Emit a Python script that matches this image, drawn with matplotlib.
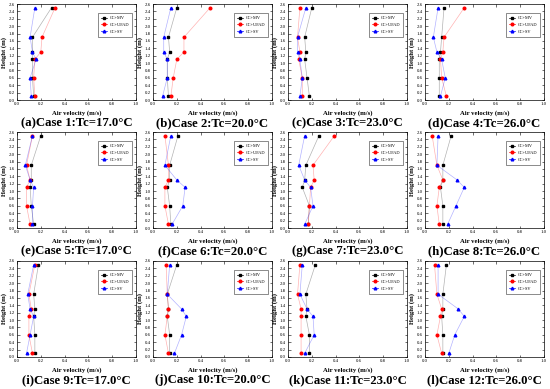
import matplotlib
matplotlib.use("Agg")
import matplotlib.pyplot as plt
from matplotlib.ticker import MultipleLocator
from matplotlib.lines import Line2D

plt.rcParams['font.family'] = ['Liberation Serif', 'DejaVu Serif']

heights = [0.1, 0.6, 1.1, 1.3, 1.7, 2.5]

titles = [
    "(a)Case 1:Tc=17.0°C", "(b)Case 2:Tc=20.0°C", "(c)Case 3:Tc=23.0°C", "(d)Case 4:Tc=26.0°C",
    "(e)Case 5:Tc=17.0°C", "(f)Case 6:Tc=20.0°C", "(g)Case 7:Tc=23.0°C", "(h)Case 8:Tc=26.0°C",
    "(i)Case 9:Tc=17.0°C", "(j)Case 10:Tc=20.0°C", "(k)Case 11:Tc=23.0°C", "(l)Case 12:Tc=26.0°C",
]

# air velocity at each height, one list per case
mv = [
    [0.14, 0.13, 0.13, 0.13, 0.13, 0.29],
    [0.13, 0.12, 0.12, 0.14, 0.13, 0.20],
    [0.18, 0.16, 0.14, 0.15, 0.14, 0.20],
    [0.12, 0.12, 0.12, 0.13, 0.14, 0.16],
    [0.14, 0.12, 0.11, 0.12, 0.12, 0.20],
    [0.15, 0.14, 0.12, 0.14, 0.14, 0.21],
    [0.17, 0.18, 0.12, 0.14, 0.15, 0.26],
    [0.15, 0.15, 0.13, 0.15, 0.15, 0.22],
    [0.15, 0.15, 0.14, 0.15, 0.14, 0.18],
    [0.14, 0.14, 0.12, 0.13, 0.12, 0.20],
    [0.18, 0.18, 0.15, 0.16, 0.15, 0.23],
    [0.15, 0.15, 0.14, 0.15, 0.15, 0.18],
]
ufad = [
    [0.15, 0.14, 0.15, 0.20, 0.21, 0.32],
    [0.15, 0.17, 0.20, 0.26, 0.26, 0.48],
    [0.12, 0.12, 0.09, 0.10, 0.08, 0.10],
    [0.18, 0.14, 0.13, 0.15, 0.16, 0.33],
    [0.11, 0.08, 0.08, 0.11, 0.08, 0.13],
    [0.13, 0.10, 0.10, 0.13, 0.13, 0.10],
    [0.17, 0.18, 0.19, 0.22, 0.21, 0.39],
    [0.12, 0.10, 0.12, 0.15, 0.10, 0.06],
    [0.13, 0.10, 0.10, 0.12, 0.10, 0.15],
    [0.13, 0.10, 0.12, 0.13, 0.12, 0.11],
    [0.11, 0.11, 0.11, 0.11, 0.08, 0.10],
    [0.14, 0.10, 0.13, 0.14, 0.10, 0.08],
]
sv = [
    [0.12, 0.11, 0.16, 0.13, 0.11, 0.15],
    [0.08, 0.12, 0.12, 0.09, 0.09, 0.15],
    [0.10, 0.12, 0.10, 0.08, 0.08, 0.15],
    [0.13, 0.17, 0.14, 0.10, 0.07, 0.11],
    [0.13, 0.13, 0.14, 0.11, 0.07, 0.13],
    [0.16, 0.25, 0.27, 0.20, 0.10, 0.15],
    [0.14, 0.21, 0.19, 0.14, 0.09, 0.14],
    [0.19, 0.26, 0.33, 0.27, 0.10, 0.11],
    [0.08, 0.11, 0.14, 0.11, 0.09, 0.14],
    [0.18, 0.24, 0.28, 0.24, 0.12, 0.14],
    [0.14, 0.22, 0.21, 0.16, 0.10, 0.12],
    [0.20, 0.25, 0.33, 0.28, 0.11, 0.11],
]

series = [('CC+MV', mv, 'black', 's'), ('CC+UFAD', ufad, 'red', 'o'), ('CC+SV', sv, 'blue', '^')]

W, H = 550, 389
fig = plt.figure(figsize=(5.5, 3.89), dpi=100)

col_left = [17, 153, 288, 425]
row_top = [4, 132, 261]
aw, ah = 119, 96

fmt = plt.FuncFormatter(lambda v, p: f"{v:.1f}")

for i in range(12):
    r, c = divmod(i, 4)
    ax = fig.add_axes([col_left[c] / W, 1 - (row_top[r] + ah) / H, aw / W, ah / H])
    handles = []
    for name, data, col, mk in series:
        # faint connecting line, solid markers
        ax.plot(data[i], heights, color=col, lw=0.5, alpha=0.3)
        ax.plot(data[i], heights, ls='none', color=col, marker=mk, ms=1.9)
        handles.append(Line2D([], [], color=col, marker=mk, ms=1.9, lw=0.5))
    ax.set_xlim(0, 1.0)
    ax.set_ylim(0, 2.6)
    ax.xaxis.set_major_locator(MultipleLocator(0.2))
    ax.yaxis.set_major_locator(MultipleLocator(0.2))
    ax.xaxis.set_major_formatter(fmt)
    ax.yaxis.set_major_formatter(fmt)
    ax.tick_params(direction='in', length=1.8, width=0.4, labelsize=3.5, pad=1.5,
                   top=True, right=True)
    for s in ax.spines.values():
        s.set_linewidth(0.5)
    ax.set_xlabel('Air velocity (m/s)', fontsize=4.8, fontweight='bold', labelpad=3)
    ax.set_ylabel('Height (m)', fontsize=4.8, fontweight='bold', labelpad=1.5)
    leg = ax.legend(handles, [s[0] for s in series], loc='upper right', fontsize=3.2,
                    frameon=True, fancybox=False, edgecolor='black', borderpad=0.7,
                    handlelength=1.3, handletextpad=0.6, labelspacing=0.6,
                    bbox_to_anchor=(0.985, 0.93))
    leg.get_frame().set_linewidth(0.4)
    fig.text((col_left[c] + aw / 2) / W, 1 - (row_top[r] + ah + 23) / H, titles[i],
             ha='center', va='center', fontsize=9.2, fontweight='bold')

fig.savefig('out.png', dpi=100)
